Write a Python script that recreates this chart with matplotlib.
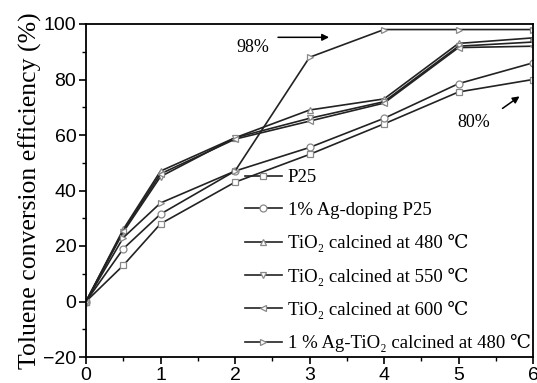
import matplotlib
matplotlib.use("Agg")
import matplotlib.pyplot as plt
from matplotlib.ticker import MultipleLocator

# time points (h)
t = [0, 0.5, 1, 2, 3, 4, 5, 6]

p25 = [0, 13, 28, 43, 53, 64, 75.5, 80]
ag_p25 = [0, 19, 31.5, 47, 55.5, 66, 78.5, 86]
tio2_480 = [0, 26, 47, 59, 69, 73, 93, 95]
tio2_550 = [0, 25, 45, 59, 66, 72, 92, 93.5]
tio2_600 = [0, 25.5, 46, 58.5, 65, 71.5, 91.5, 92]
ag_tio2 = [0, 23, 35.5, 47, 88, 98, 98, 98]

labels = ["P25", "1% Ag-doping P25",
          "TiO\u2082 calcined at 480 \u2103",
          "TiO\u2082 calcined at 550 \u2103",
          "TiO\u2082 calcined at 600 \u2103",
          "1 % Ag-TiO\u2082 calcined at 480 \u2103"]
markers = ["s", "o", "^", "v", "<", ">"]
series = [p25, ag_p25, tio2_480, tio2_550, tio2_600, ag_tio2]

serif = ['Liberation Serif', 'DejaVu Serif']
sans = ['Liberation Sans', 'DejaVu Sans']

fig = plt.figure(figsize=(5.37, 3.83), dpi=100)
ax = fig.add_axes([86 / 537, 1 - 357 / 383, 447 / 537, (357 - 24) / 383])

for y, m, lab in zip(series, markers, labels):
    ax.plot(t, y, color='#222222', lw=1.2, marker=m, ms=5,
            mfc='white', mec='#888888', mew=0.9, label=lab)

ax.set_xlim(0, 6)
ax.set_ylim(-20, 100)
ax.xaxis.set_major_locator(MultipleLocator(1))
ax.xaxis.set_minor_locator(MultipleLocator(0.5))
ax.yaxis.set_major_locator(MultipleLocator(20))
ax.yaxis.set_minor_locator(MultipleLocator(10))
ax.tick_params(which='major', direction='out', length=5, width=1.2, labelsize=14, pad=2)
ax.tick_params(which='minor', direction='out', length=3, width=1)
for lab in ax.get_xticklabels() + ax.get_yticklabels():
    lab.set_family(sans)
for s in ax.spines.values():
    s.set_linewidth(1.3)

ax.set_ylabel("Toluene conversion efficiency (%)", family=serif, fontsize=18.5, labelpad=1)

leg = ax.legend(loc='lower right', bbox_to_anchor=(1.02, -0.02), frameon=False,
                prop={'family': serif, 'size': 13.5}, handlelength=2.0,
                handletextpad=0.3, labelspacing=0.82, borderaxespad=0.2)

ax.text(2.24, 91.5, "98%", family=serif, fontsize=13, ha='center', va='center')
ax.annotate("", xy=(3.3, 95.2), xytext=(2.54, 95.2),
            arrowprops=dict(arrowstyle='-|>', color='black', lw=1.1))
ax.text(5.2, 64.5, "80%", family=serif, fontsize=13, ha='center', va='center')
ax.annotate("", xy=(5.85, 74.5), xytext=(5.56, 69),
            arrowprops=dict(arrowstyle='-|>', color='black', lw=1.1))

fig.savefig("out.png", dpi=100)
